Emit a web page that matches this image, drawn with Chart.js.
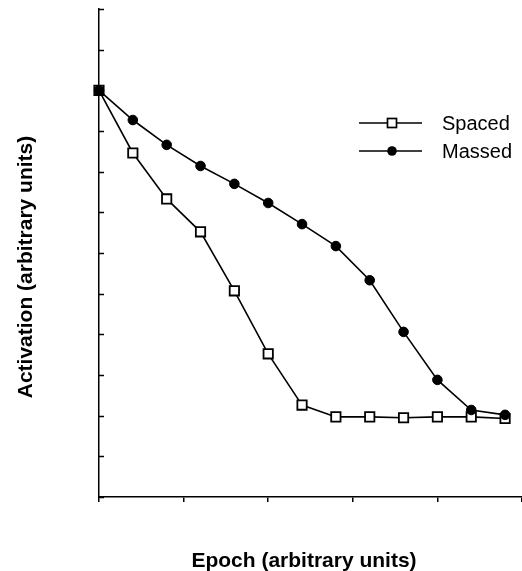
<!DOCTYPE html>
<html>
<head>
<meta charset="utf-8">
<script src="https://cdn.jsdelivr.net/npm/chart.js@4/dist/chart.umd.min.js"></script>
<style>
  html, body { margin: 0; padding: 0; background: #fff; }
  canvas { display: block; }
</style>
</head>
<body>
<canvas id="chart" width="522" height="571"></canvas>
<script>
// ================================
// DATA
// ================================
const epochs = [0, 1, 2, 3, 4, 5, 6, 7, 8, 9, 10, 11, 12];
const spaced = [10.0, 8.46, 7.33, 6.52, 5.07, 3.52, 2.26, 1.97, 1.97, 1.95, 1.97, 1.97, 1.93];
const massed = [10.0, 9.27, 8.66, 8.14, 7.70, 7.23, 6.71, 6.17, 5.33, 4.06, 2.88, 2.14, 2.02];
const yTicks = [0, 1, 2, 3, 4, 5, 6, 7, 8, 9, 10, 11, 12];
const seriesNames = ["Spaced", "Massed"];
const xTitle = "Epoch (arbitrary units)";
const yTitle = "Activation (arbitrary units)";

const toPoints = arr => epochs.map((e, i) => ({ x: e, y: arr[i] }));

// ================================
// EXTRA DRAWING (inner y ticks, legend, axis titles)
// ================================
const decor = {
  id: "decor",
  afterDraw(chart) {
    const ctx = chart.ctx;
    const area = chart.chartArea;
    const yScale = chart.scales.y;
    ctx.save();
    ctx.strokeStyle = "#000";
    ctx.fillStyle = "#000";

    // y ticks pointing inward
    ctx.lineWidth = 1.5;
    yTicks.forEach(v => {
      const py = Math.round(yScale.getPixelForValue(v)) + 0.5;
      ctx.beginPath();
      ctx.moveTo(area.left, py);
      ctx.lineTo(area.left + 5, py);
      ctx.stroke();
    });

    // legend
    const rows = [
      { name: seriesNames[0], y: 123, style: "rect" },
      { name: seriesNames[1], y: 151, style: "circle" }
    ];
    rows.forEach(r => {
      ctx.lineWidth = 1.4;
      ctx.strokeStyle = "#000";
      ctx.beginPath();
      ctx.moveTo(359, r.y);
      ctx.lineTo(422, r.y);
      ctx.stroke();
      if (r.style === "rect") {
        ctx.fillStyle = "#fff";
        ctx.fillRect(387.5, r.y - 4.5, 9, 9);
        ctx.lineWidth = 1.7;
        ctx.strokeRect(387.5, r.y - 4.5, 9, 9);
      } else {
        ctx.fillStyle = "#000";
        ctx.beginPath();
        ctx.arc(392, r.y, 4.8, 0, Math.PI * 2);
        ctx.fill();
      }
      ctx.fillStyle = "#000";
      ctx.font = "20px 'Liberation Sans', Arial, sans-serif";
      ctx.textAlign = "left";
      ctx.textBaseline = "middle";
      ctx.fillText(r.name, 442, r.y + 1);
    });

    // axis titles
    ctx.font = "bold 21px 'Liberation Sans', Arial, sans-serif";
    ctx.textAlign = "center";
    ctx.textBaseline = "alphabetic";
    ctx.fillText(xTitle, 304, 567);

    ctx.translate(32, 267);
    ctx.rotate(-Math.PI / 2);
    ctx.fillText(yTitle, 0, 0);
    ctx.restore();
  }
};

// ================================
// CHART
// ================================
new Chart(document.getElementById("chart"), {
  type: "line",
  data: {
    datasets: [
      {
        label: seriesNames[1],
        data: toPoints(massed),
        borderColor: "#000",
        borderWidth: 1.6,
        pointStyle: "circle",
        pointRadius: 4.8,
        pointBackgroundColor: "#000",
        pointBorderColor: "#000",
        pointBorderWidth: 1,
        tension: 0,
        clip: false
      },
      {
        label: seriesNames[0],
        data: toPoints(spaced),
        borderColor: "#000",
        borderWidth: 1.6,
        pointStyle: "rect",
        pointRadius: 6.6,
        pointBackgroundColor: "#fff",
        pointBorderColor: "#000",
        pointBorderWidth: 1.8,
        tension: 0,
        clip: false
      }
    ]
  },
  options: {
    responsive: false,
    animation: false,
    layout: { autoPadding: false, padding: { left: 99, right: 0, top: 9, bottom: 74 } },
    plugins: {
      legend: { display: false },
      tooltip: { enabled: false }
    },
    scales: {
      x: {
        type: "linear",
        min: 0,
        max: 12.5,
        ticks: { display: false, stepSize: 2.5 },
        grid: { drawOnChartArea: false, drawTicks: true, tickLength: 5, color: "#000", lineWidth: 1.5 },
        border: { display: true, color: "#000", width: 1.5 },
        afterFit: s => { s.height = 0; }
      },
      y: {
        min: 0,
        max: 12,
        ticks: { display: false, stepSize: 1 },
        grid: { display: false },
        border: { display: true, color: "#000", width: 1.5 },
        afterFit: s => { s.width = 0; }
      }
    }
  },
  plugins: [decor]
});
</script>
</body>
</html>
